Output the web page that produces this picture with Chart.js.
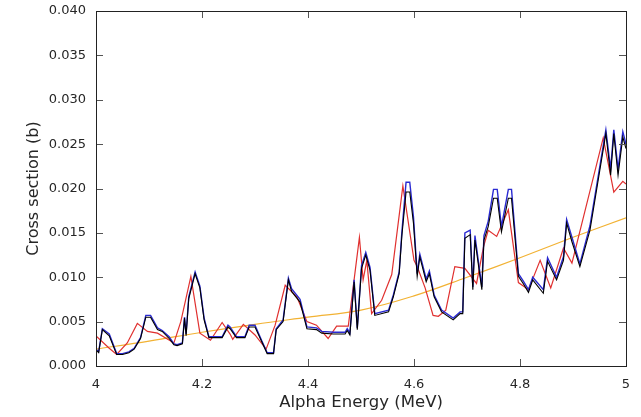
<!DOCTYPE html>
<html>
<head>
<meta charset="utf-8">
<script src="https://cdn.jsdelivr.net/npm/chart.js@4.4.0/dist/chart.umd.min.js"></script>
<style>
  html, body { margin: 0; padding: 0; background: #fff; }
  #wrap { width: 641px; height: 417px; }
</style>
</head>
<body>
<div id="wrap"><canvas id="c" width="641" height="417"></canvas></div>
<script>
// ---- data (Alpha energy in MeV, cross section in barns) ----
const xTickLabels = ["4", "4.2", "4.4", "4.6", "4.8", "5"];
const yTickLabels = ["0.000", "0.005", "0.010", "0.015", "0.020", "0.025", "0.030", "0.035", "0.040"];

const blackEnergy = [4.000,4.005,4.012,4.025,4.039,4.050,4.062,4.072,4.084,4.094,4.103,4.116,4.125,4.138,4.147,4.153,4.163,4.167,4.170,4.175,4.187,4.196,4.204,4.213,4.223,4.238,4.249,4.253,4.265,4.281,4.289,4.300,4.313,4.323,4.335,4.340,4.353,4.363,4.369,4.385,4.398,4.416,4.426,4.448,4.470,4.474,4.479,4.487,4.493,4.501,4.509,4.517,4.526,4.552,4.561,4.572,4.577,4.585,4.592,4.599,4.606,4.611,4.623,4.629,4.638,4.652,4.674,4.687,4.692,4.696,4.706,4.711,4.715,4.728,4.732,4.740,4.750,4.757,4.765,4.778,4.784,4.797,4.806,4.816,4.824,4.844,4.852,4.869,4.882,4.888,4.898,4.913,4.932,4.962,4.971,4.977,4.985,4.994,5.000];
const blackXS = [0.0018,0.0015,0.0041,0.0034,0.0013,0.0013,0.0015,0.0019,0.0031,0.0055,0.0055,0.0041,0.0039,0.0031,0.0024,0.0023,0.0025,0.0054,0.0034,0.0076,0.0104,0.0088,0.0052,0.0032,0.0032,0.0032,0.0044,0.0042,0.0032,0.0032,0.0044,0.0044,0.0027,0.0014,0.0014,0.0041,0.0050,0.0097,0.0084,0.0072,0.0042,0.0041,0.0037,0.0036,0.0036,0.0040,0.0035,0.0095,0.0041,0.0110,0.0125,0.0108,0.0057,0.0061,0.0078,0.0104,0.0146,0.0196,0.0196,0.0161,0.0101,0.0123,0.0095,0.0104,0.0078,0.0061,0.0052,0.0059,0.0059,0.0144,0.0148,0.0086,0.0142,0.0086,0.0142,0.0157,0.0189,0.0189,0.0151,0.0189,0.0189,0.0101,0.0093,0.0083,0.0097,0.0082,0.0118,0.0097,0.0119,0.0161,0.0140,0.0112,0.0153,0.0262,0.0215,0.0262,0.0215,0.0258,0.0245];

const blueEnergy = blackEnergy;
const blueXS = [0.0019,0.0016,0.0042,0.0036,0.0014,0.0014,0.0016,0.0020,0.0032,0.0057,0.0057,0.0043,0.0040,0.0033,0.0025,0.0024,0.0026,0.0055,0.0036,0.0078,0.0106,0.0090,0.0054,0.0033,0.0033,0.0033,0.0046,0.0044,0.0033,0.0033,0.0046,0.0046,0.0028,0.0015,0.0015,0.0042,0.0052,0.0099,0.0087,0.0075,0.0044,0.0043,0.0039,0.0038,0.0038,0.0042,0.0037,0.0097,0.0043,0.0113,0.0128,0.0111,0.0059,0.0063,0.0080,0.0106,0.0150,0.0207,0.0207,0.0168,0.0104,0.0126,0.0098,0.0107,0.0080,0.0063,0.0054,0.0061,0.0061,0.0150,0.0153,0.0089,0.0147,0.0089,0.0147,0.0163,0.0199,0.0199,0.0157,0.0199,0.0199,0.0104,0.0096,0.0086,0.0100,0.0086,0.0122,0.0100,0.0123,0.0165,0.0145,0.0115,0.0158,0.0266,0.0222,0.0266,0.0222,0.0264,0.0250];

const redEnergy = [4.000,4.025,4.039,4.059,4.078,4.097,4.116,4.147,4.160,4.179,4.196,4.216,4.238,4.253,4.258,4.278,4.300,4.321,4.338,4.357,4.379,4.398,4.416,4.438,4.454,4.476,4.497,4.504,4.511,4.520,4.539,4.558,4.579,4.600,4.606,4.621,4.636,4.646,4.660,4.677,4.696,4.718,4.731,4.740,4.756,4.778,4.797,4.816,4.838,4.858,4.882,4.898,4.957,4.977,4.994,5.000];
const redXS = [0.0034,0.0020,0.0013,0.0026,0.0048,0.0039,0.0037,0.0026,0.0050,0.0101,0.0037,0.0029,0.0049,0.0036,0.0030,0.0047,0.0035,0.0019,0.0046,0.0091,0.0078,0.0050,0.0046,0.0031,0.0045,0.0045,0.0145,0.0097,0.0119,0.0059,0.0074,0.0103,0.0203,0.0119,0.0112,0.0088,0.0057,0.0056,0.0063,0.0112,0.0110,0.0093,0.0134,0.0153,0.0146,0.0176,0.0094,0.0086,0.0119,0.0088,0.0133,0.0116,0.0257,0.0196,0.0208,0.0205];

const orangeEnergy = [4.0,4.1,4.2,4.3,4.4,4.5,4.6,4.7,4.8,4.9,5.0];
const orangeXS = [0.0019,0.0028,0.0038,0.0047,0.0055,0.0063,0.0079,0.0100,0.0122,0.0145,0.0167];

function pts(xs, ys) { return xs.map((x, i) => ({ x: x, y: ys[i] })); }

const FONT = "'DejaVu Sans', sans-serif";
const TEXT = '#262626';

const frameTicks = {
  id: 'frameTicks',
  afterDraw(chart) {
    const { ctx, chartArea: a, scales: { x, y } } = chart;
    ctx.save();
    ctx.lineWidth = 1;
    ctx.strokeStyle = '#555';
    const L = 7;
    ctx.beginPath();
    x.ticks.forEach(t => {
      const p = Math.round(x.getPixelForValue(t.value)) + 0.5;
      ctx.moveTo(p, a.bottom); ctx.lineTo(p, a.bottom - L);
      ctx.moveTo(p, a.top); ctx.lineTo(p, a.top + L);
    });
    y.ticks.forEach(t => {
      const p = Math.round(y.getPixelForValue(t.value)) + 0.5;
      ctx.moveTo(a.left, p); ctx.lineTo(a.left + L, p);
      ctx.moveTo(a.right, p); ctx.lineTo(a.right - L, p);
    });
    ctx.stroke();
    ctx.strokeStyle = '#222';
    ctx.strokeRect(Math.round(a.left) + 0.5, Math.round(a.top) + 0.5,
                   Math.round(a.right - a.left), Math.round(a.bottom - a.top));
    ctx.restore();
  }
};

new Chart(document.getElementById('c'), {
  type: 'line',
  data: {
    datasets: [
      { label: 'orange', data: pts(orangeEnergy, orangeXS), borderColor: '#f2b233', borderWidth: 1.2, pointRadius: 0, tension: 0.4, order: 4 },
      { label: 'red', data: pts(redEnergy, redXS), borderColor: '#e0302f', borderWidth: 1.2, pointRadius: 0, tension: 0, order: 3 },
      { label: 'blue', data: pts(blueEnergy, blueXS), borderColor: '#2a2ad2', borderWidth: 1.4, pointRadius: 0, tension: 0, order: 2 },
      { label: 'black', data: pts(blackEnergy, blackXS), borderColor: '#000000', borderWidth: 1.1, pointRadius: 0, tension: 0, order: 1 }
    ]
  },
  options: {
    responsive: false,
    animation: false,
    events: [],
    layout: { padding: { left: 24, right: 15, top: 11, bottom: 0 } },
    plugins: { legend: { display: false }, tooltip: { enabled: false } },
    scales: {
      x: {
        type: 'linear', min: 4, max: 5,
        grid: { display: false, drawTicks: false }, border: { display: false },
        ticks: {
          stepSize: 0.2, padding: 11, color: TEXT, font: { family: FONT, size: 13 },
          maxRotation: 0,
          callback: (v) => { const i = Math.round((v - 4) / 0.2); return xTickLabels[i]; }
        },
        title: { display: true, text: 'Alpha Energy (MeV)', color: TEXT, font: { family: FONT, size: 16.5 }, padding: { top: 2, bottom: 4 } },
        afterFit: (s) => { s.height = 51; s.paddingLeft = 0; s.paddingRight = 0; }
      },
      y: {
        type: 'linear', min: 0, max: 0.04,
        grid: { display: false, drawTicks: false }, border: { display: false },
        ticks: {
          stepSize: 0.005, padding: 10, color: TEXT, font: { family: FONT, size: 13 },
          callback: (v) => { const i = Math.round(v / 0.005); return yTickLabels[i]; }
        },
        title: { display: true, text: 'Cross section (b)', color: TEXT, font: { family: FONT, size: 16 }, padding: { top: 0, bottom: 6 } },
        afterFit: (s) => { s.width = 72; s.paddingTop = 0; s.paddingBottom = 0; }
      }
    }
  },
  plugins: [frameTicks]
});
</script>
</body>
</html>
